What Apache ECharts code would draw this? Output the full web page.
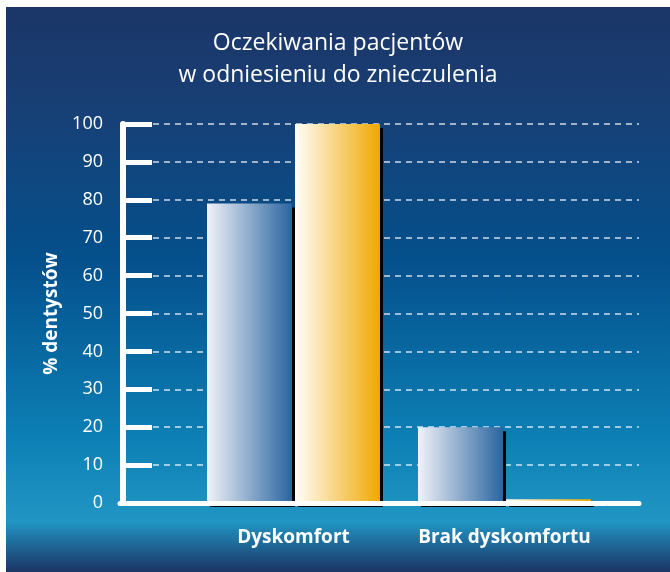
<!DOCTYPE html>
<html>
<head>
<meta charset="utf-8">
<script src="https://cdn.jsdelivr.net/npm/echarts@6/dist/echarts.min.js"></script>
<style>
  html, body { margin: 0; padding: 0; background: #ffffff; }
  #chart {
    position: absolute; left: 6px; top: 7px; width: 664px; height: 565px;
    background: linear-gradient(to bottom, #1b3567 0%, #193e73 15%, #04508c 45%, #0c7fb4 76%, #2196c4 91%, #1b3466 100%);
  }
</style>
</head>
<body>
<div id="chart"></div>
<script>
// chart data
const categories = ['Dyskomfort', 'Brak dyskomfortu'];
const blueValues = [79, 20];
const yellowValues = [100, 1];
const yTicks = [0, 10, 20, 30, 40, 50, 60, 70, 80, 90, 100];

const FONT = '"Open Sans", "Noto Sans", sans-serif';

const chart = echarts.init(document.getElementById('chart'));

function barStyle(from, to) {
    return {
        color: new echarts.graphic.LinearGradient(0, 0, 1, 0, [
            { offset: 0, color: from },
            { offset: 1, color: to }
        ]),
        shadowColor: '#000000',
        shadowBlur: 0,
        shadowOffsetX: 3,
        shadowOffsetY: 4
    };
}

const option = {
    title: {
        text: 'Oczekiwania pacjentów\nw odniesieniu do znieczulenia',
        left: 'center',
        top: 15,
        textStyle: {
            color: '#ffffff',
            fontFamily: FONT,
            fontWeight: 'normal',
            fontSize: 23,
            lineHeight: 32
        }
    },
    grid: [
        // grid for the gridlines and baseline
        { left: 114, right: 31, top: 117, bottom: 69 },
        // grid for the bars
        { left: 182, width: 422, top: 117, bottom: 69 }
    ],
    xAxis: [
        {
            gridIndex: 0,
            type: 'value',
            min: 0,
            max: 1,
            z: 5,
            axisLine: { show: true, lineStyle: { color: '#ffffff', width: 5 } },
            axisTick: { show: false },
            axisLabel: { show: false },
            splitLine: { show: false }
        },
        {
            gridIndex: 1,
            type: 'category',
            data: categories,
            axisLine: { show: false },
            axisTick: { show: false },
            axisLabel: {
                interval: 0,
                color: '#ffffff',
                fontFamily: FONT,
                fontWeight: 'bold',
                fontSize: 19,
                margin: 25
            }
        }
    ],
    yAxis: [
        {
            gridIndex: 0,
            type: 'value',
            min: 0,
            max: 100,
            interval: 10,
            axisLine: { show: false },
            axisTick: { show: false },
            axisLabel: { show: false },
            splitLine: {
                show: true,
                lineStyle: { color: 'rgba(255,255,255,0.8)', width: 1.5, type: [6, 5] }
            }
        },
        {
            gridIndex: 1,
            type: 'value',
            min: 0,
            max: 100,
            interval: 10,
            offset: 65,
            z: 5,
            name: '% dentystów',
            nameLocation: 'middle',
            nameGap: 62,
            nameTextStyle: {
                color: '#ffffff',
                fontFamily: FONT,
                fontWeight: 'bold',
                fontSize: 19
            },
            axisLine: { show: true, lineStyle: { color: '#ffffff', width: 6 } },
            axisTick: { show: true, inside: true, length: 29, lineStyle: { color: '#ffffff', width: 5 } },
            axisLabel: {
                color: '#ffffff',
                fontFamily: FONT,
                fontSize: 18,
                margin: 20,
                formatter: function(v) { return yTicks.indexOf(v) >= 0 ? String(v) : ''; }
            },
            splitLine: { show: false }
        }
    ],
    series: [
        {
            name: 'Niebieski',
            type: 'bar',
            xAxisIndex: 1,
            yAxisIndex: 1,
            data: blueValues,
            barWidth: 85,
            barGap: '3.5%',
            itemStyle: barStyle('#f1f2f8', '#2a65a0')
        },
        {
            name: 'Żółty',
            type: 'bar',
            xAxisIndex: 1,
            yAxisIndex: 1,
            data: yellowValues,
            barWidth: 85,
            barGap: '3.5%',
            itemStyle: barStyle('#fffefa', '#f0a800')
        }
    ],
    animation: false
};

chart.setOption(option);
</script>
</body>
</html>
